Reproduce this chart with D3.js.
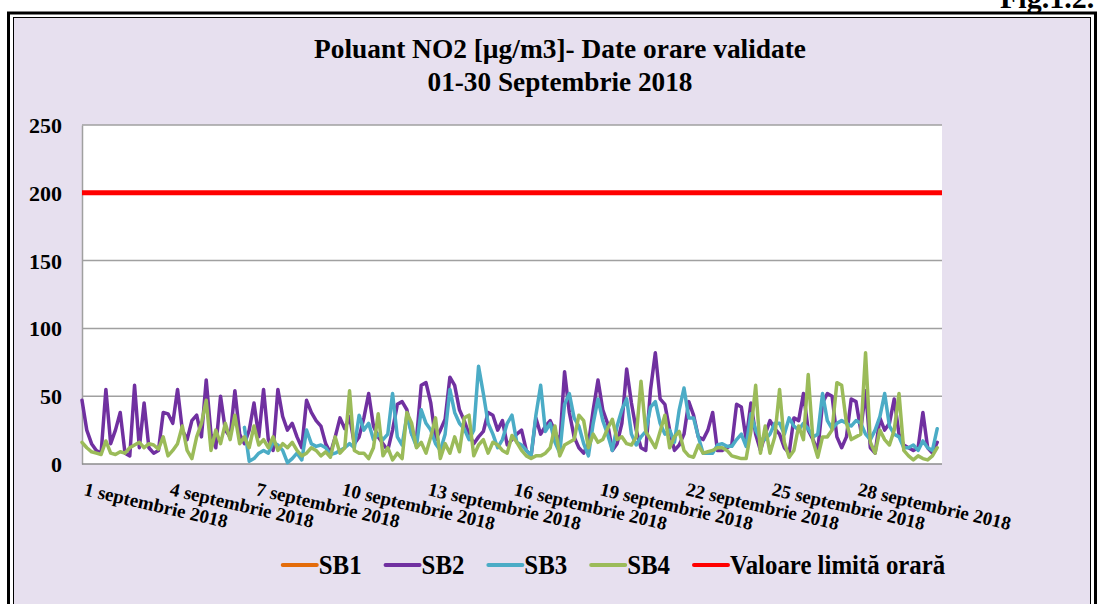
<!DOCTYPE html>
<html>
<head>
<meta charset="utf-8">
<script src="https://cdn.jsdelivr.net/npm/d3@7"></script>
<style>
  body { margin: 0; background: #fff; }
  svg { display: block; }
  text { font-family: "Liberation Serif", "Times New Roman", serif; font-weight: bold; fill: #000; }
</style>
</head>
<body>
<div class="canvas"></div>
<script>
// Hourly NO2 readings, every 4 hours (6 values per day, 1-30 Sept 2018)
const stepHours = 4;
const sb1 = [];
const sb2 = [
  47,25,15,10,8,55,   15,25,38,8,6,58,    12,45,12,8,10,38,   37,30,55,25,18,32,  36,20,62,22,12,50,
  25,20,54,22,15,25,  45,20,55,18,10,55,  35,25,30,20,12,47,  38,32,28,15,8,20,   34,26,35,15,20,34,
  52,28,20,15,10,25,  44,46,40,22,18,58,  60,45,18,25,33,64,  58,40,32,22,15,20,  24,38,36,25,32,14,
  18,22,25,10,6,34,   22,28,32,24,15,68,  38,20,12,8,15,40,   62,40,30,10,15,30,  70,45,25,12,10,55,
  82,48,44,25,10,14,  22,46,36,20,18,25,  38,10,10,12,14,44,  42,18,45,22,10,22,  32,26,22,12,8,34,
  32,52,25,18,10,45,  52,50,20,12,20,48,  46,25,54,12,8,34,   25,30,48,22,14,12,  10,12,38,12,8,16
];
const sb3 = [
  null,null,null,null,null,null, null,null,null,null,null,null, null,null,null,null,null,null,
  null,null,null,null,null,null, null,null,null,null,null,null,
  null,null,null,null,27,2,   4,8,10,8,16,14,     10,1,4,8,3,25,      15,13,14,12,7,8,    10,12,15,12,36,25,
  30,18,22,18,22,52,  20,14,36,22,13,40,  30,25,15,10,22,55,  38,30,26,18,25,72,  52,30,22,12,18,30,
  36,16,14,10,6,36,   58,24,30,16,8,44,   52,34,28,15,6,30,   48,32,22,10,28,40,  48,22,14,20,24,42,
  46,30,22,25,16,40,  56,34,34,20,8,8,    8,14,15,13,13,18,   22,13,37,25,18,18,  22,30,30,22,34,28,
  25,30,26,20,22,52,  32,26,30,32,30,28,  32,30,22,18,25,35,  52,28,22,20,12,12,  14,10,17,12,10,26
];
const sb4 = [
  16,12,9,8,7,17,     8,7,9,8,12,14,      16,12,15,14,11,20,  6,10,15,28,10,4,    20,30,47,10,25,15,
  30,18,36,15,20,12,  28,14,18,12,20,10,  15,12,16,10,6,8,    12,10,6,9,5,20,     8,12,54,10,8,8,
  4,12,37,6,12,3,     8,4,38,30,12,16,    8,20,34,4,15,8,     20,9,34,36,6,14,    18,8,16,14,10,8,
  21,16,10,6,4,6,     6,8,12,28,6,14,     16,18,36,32,12,22,  16,18,26,33,18,20,  15,14,20,61,24,18,
  12,24,36,12,20,24,  10,6,5,14,8,9,      10,12,12,10,6,5,    4,4,24,58,8,28,     8,20,55,16,5,10,
  28,18,66,17,5,20,   20,25,60,58,30,18,  20,22,82,16,8,25,   18,14,25,52,10,6,   3,6,4,3,6,12
];
const limitValue = 200;
const totalHours = 720;
const labelDays = [1, 4, 7, 10, 13, 16, 19, 22, 25, 28];
const yTicks = [0, 50, 100, 150, 200, 250];
const seriesNames = ['SB1', 'SB2', 'SB3', 'SB4'];
const seriesColors = ['#e46c0a', '#7030a0', '#4bacc6', '#9bbb59'];
const limitName = 'Valoare limită orară';

const W = 1099, H = 604;
const plot = { left: 82, right: 942, top: 125, bottom: 464 };

const svg = d3.select('.canvas')
  .append('svg')
  .attr('width', W)
  .attr('height', H);

// page label, cut off at the top edge like in the scan
svg.append('text')
  .attr('x', 1000).attr('y', 8)
  .style('font-size', '30px')
  .text('Fig.1.2.');

// double frame + lavender fill
svg.append('rect')
  .attr('x', 8.5).attr('y', 13).attr('width', 1087).attr('height', 700)
  .attr('fill', 'none').attr('stroke', '#000').attr('stroke-width', 3);
svg.append('rect')
  .attr('x', 13.5).attr('y', 17.5).attr('width', 1077).attr('height', 700)
  .attr('fill', '#e7e0ef').attr('stroke', '#000').attr('stroke-width', 1);

// title
const titleLines = [
  { text: 'Poluant NO2 [µg/m3]- Date orare validate', y: 58, len: 492 },
  { text: '01-30 Septembrie 2018', y: 91, len: 265 }
];
svg.selectAll('.title')
  .data(titleLines)
  .enter().append('text')
  .attr('class', 'title')
  .attr('x', 560).attr('y', d => d.y)
  .attr('text-anchor', 'middle')
  .attr('textLength', d => d.len)
  .attr('lengthAdjust', 'spacingAndGlyphs')
  .style('font-size', '27px')
  .text(d => d.text);

const x = d3.scaleLinear().domain([0, totalHours]).range([plot.left, plot.right]);
const y = d3.scaleLinear().domain([0, 250]).range([plot.bottom, plot.top]);

// plot area
svg.append('rect')
  .attr('x', plot.left).attr('y', plot.top)
  .attr('width', plot.right - plot.left).attr('height', plot.bottom - plot.top)
  .attr('fill', '#fff');

// gridlines
svg.append('g')
  .selectAll('line')
  .data(yTicks.filter(v => v > 0))
  .enter().append('line')
  .attr('x1', plot.left).attr('x2', plot.right)
  .attr('y1', d => y(d)).attr('y2', d => y(d))
  .attr('stroke', '#a0a0a0').attr('stroke-width', 1.5);

// y axis
const yAxis = svg.append('g')
  .attr('transform', `translate(${plot.left},0)`)
  .call(d3.axisLeft(y).tickValues(yTicks).tickSize(0).tickPadding(20));
yAxis.select('.domain').attr('stroke', '#a0a0a0').attr('stroke-width', 1.5);
yAxis.selectAll('text')
  .style('font-size', '22px')
  .style('font-family', '"Liberation Serif", serif')
  .attr('fill', '#000')
  .attr('dy', '0.34em');

// x axis line
svg.append('line')
  .attr('x1', plot.left).attr('x2', plot.right)
  .attr('y1', y(0)).attr('y2', y(0))
  .attr('stroke', '#8c8c8c').attr('stroke-width', 1.5);

// rotated day labels
svg.append('g')
  .selectAll('text')
  .data(labelDays)
  .enter().append('text')
  .attr('transform', d => `translate(${x((d - 1) * 24) + 1},${y(0) + 31}) rotate(13)`)
  .style('font-size', '19px')
  .text(d => `${d} septembrie 2018`);

// series lines
const line = d3.line()
  .defined(d => d != null)
  .x((d, i) => x(i * stepHours))
  .y(d => y(d));

const seriesData = [sb1, sb2, sb3, sb4];
svg.append('g')
  .selectAll('path')
  .data(seriesData)
  .enter().append('path')
  .attr('d', d => line(d))
  .attr('fill', 'none')
  .attr('stroke', (d, i) => seriesColors[i])
  .attr('stroke-width', 3.5)
  .attr('stroke-linejoin', 'round')
  .attr('stroke-linecap', 'round');

// hourly limit value
svg.append('line')
  .attr('x1', x(0)).attr('x2', x(totalHours))
  .attr('y1', y(limitValue)).attr('y2', y(limitValue))
  .attr('stroke', '#ff0000').attr('stroke-width', 5);

// legend
const legendItems = seriesNames.map((n, i) => ({ name: n, color: seriesColors[i] }))
  .concat([{ name: limitName, color: '#ff0000' }]);
const legend = svg.append('g');
const squeeze = 0.92;
const gap = 24;
let lx = 0;
legendItems.forEach(item => {
  const g = legend.append('g').attr('transform', `translate(${lx},0)`);
  g.append('line')
    .attr('x1', 0).attr('x2', 34).attr('y1', 0).attr('y2', 0)
    .attr('stroke', item.color).attr('stroke-width', 4).attr('stroke-linecap', 'round');
  const t = g.append('text')
    .attr('x', 36).attr('y', 9)
    .style('font-size', '27px')
    .text(item.name);
  const w = t.node().getComputedTextLength() * squeeze;
  t.attr('textLength', w).attr('lengthAdjust', 'spacingAndGlyphs');
  lx += 36 + w + gap;
});
const legendWidth = lx - gap;
legend.attr('transform', `translate(${614 - legendWidth / 2},565)`);
</script>
</body>
</html>
